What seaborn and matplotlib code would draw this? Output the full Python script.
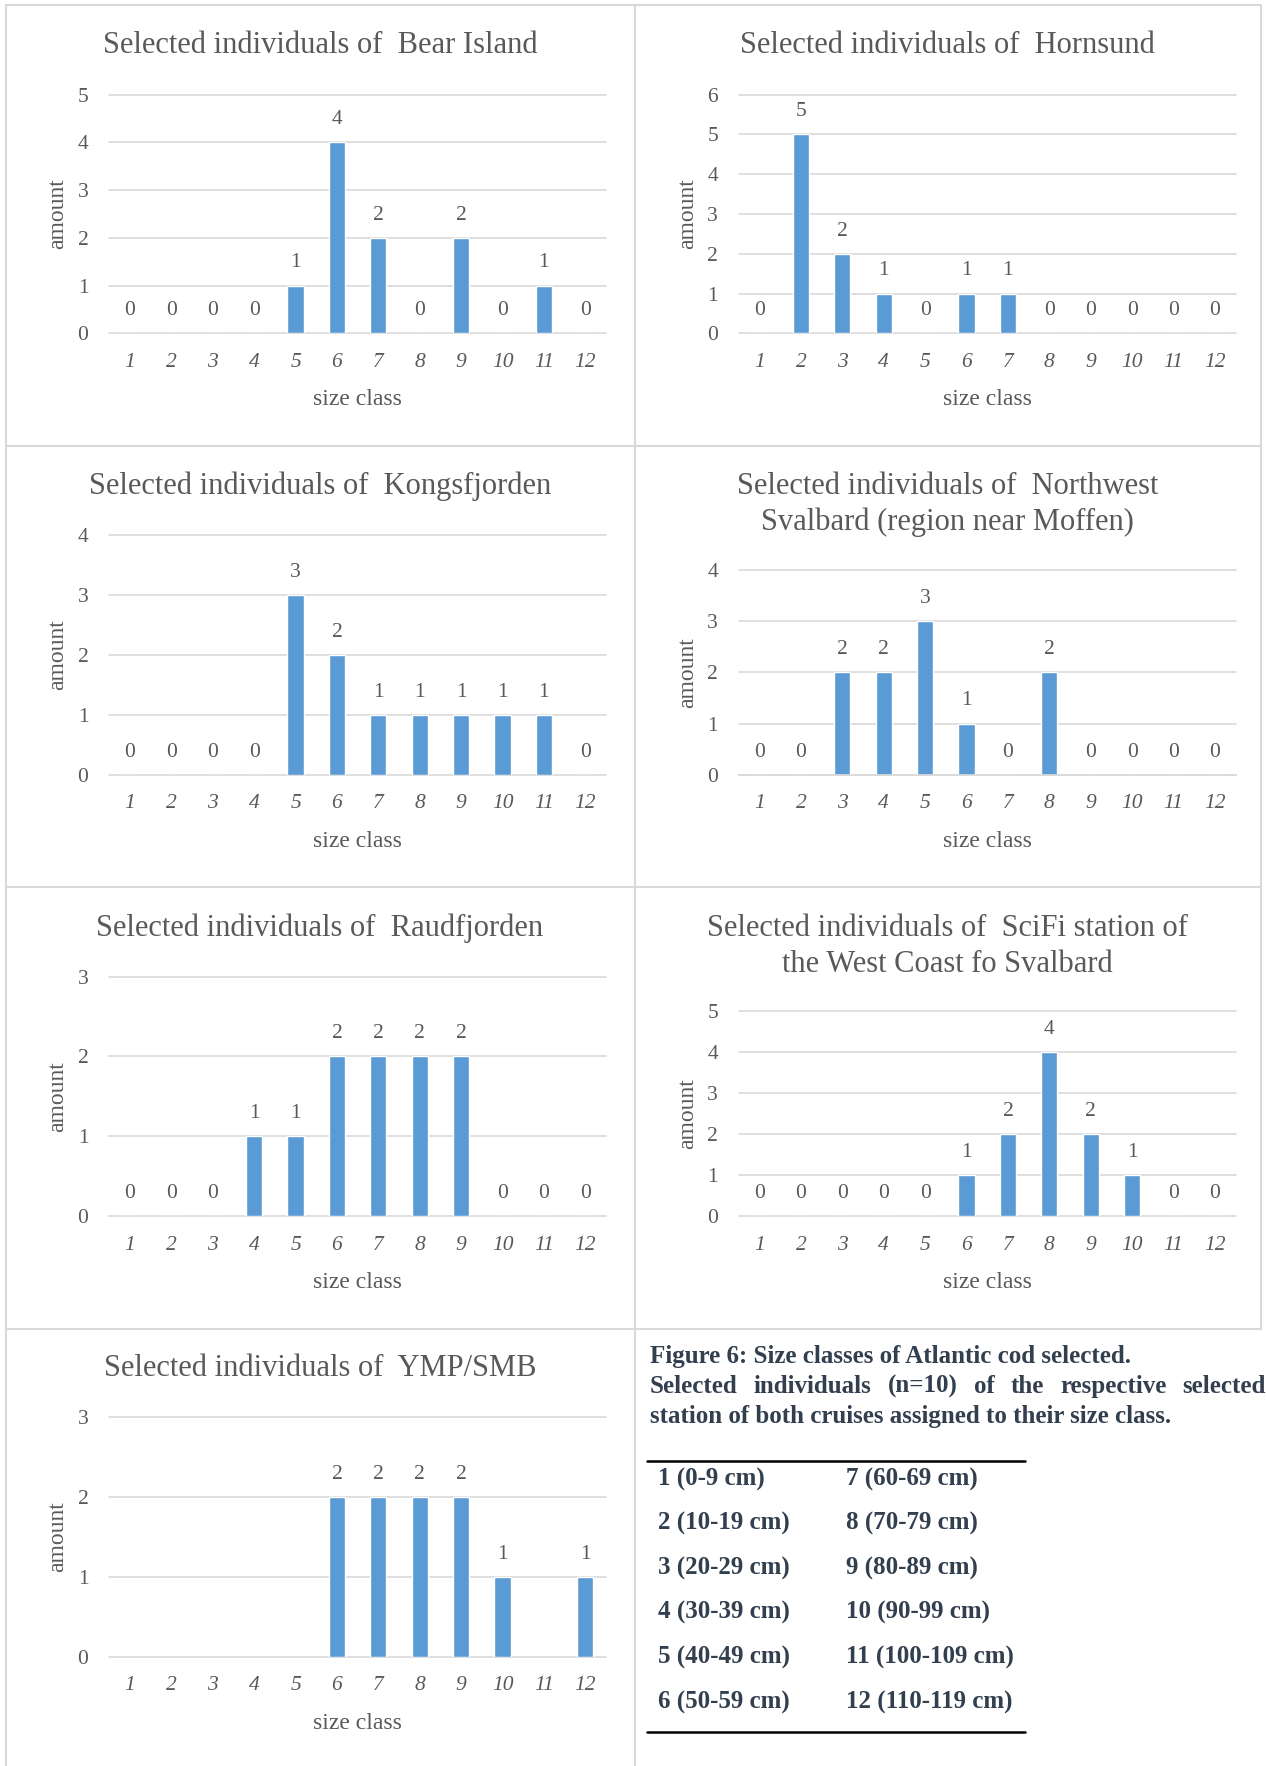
import numpy as np
import pandas as pd
import matplotlib
matplotlib.use("Agg")
import matplotlib.pyplot as plt
import seaborn as sns
from matplotlib.lines import Line2D

# ---------------- data ----------------
size_classes = [str(i) for i in range(1, 13)]

bear_island = [0, 0, 0, 0, 1, 4, 2, 0, 2, 0, 1, 0]
hornsund = [0, 5, 2, 1, 0, 1, 1, 0, 0, 0, 0, 0]
kongsfjorden = [0, 0, 0, 0, 3, 2, 1, 1, 1, 1, 1, 0]
nw_svalbard = [0, 0, 2, 2, 3, 1, 0, 2, 0, 0, 0, 0]
raudfjorden = [0, 0, 0, 1, 1, 2, 2, 2, 2, 0, 0, 0]
scifi_station = [0, 0, 0, 0, 0, 1, 2, 4, 2, 1, 0, 0]
ymp_smb = [np.nan, np.nan, np.nan, np.nan, np.nan, 2, 2, 2, 2, 1, np.nan, 1]

panel_titles = [
    ["Selected individuals of  Bear Island"],
    ["Selected individuals of  Hornsund"],
    ["Selected individuals of  Kongsfjorden"],
    ["Selected individuals of  Northwest", "Svalbard (region near Moffen)"],
    ["Selected individuals of  Raudfjorden"],
    ["Selected individuals of  SciFi station of", "the West Coast fo Svalbard"],
    ["Selected individuals of  YMP/SMB"],
]
panel_values = [bear_island, hornsund, kongsfjorden, nw_svalbard,
                raudfjorden, scifi_station, ymp_smb]
panel_ymax = [5, 6, 4, 4, 3, 5, 3]

caption_lines = [
    "Figure 6: Size classes of Atlantic cod selected.",
    "Selected individuals (n=10) of the respective selected",
    "station of both cruises assigned to their size class.",
]
class_ranges_left = ["1 (0-9 cm)", "2 (10-19 cm)", "3 (20-29 cm)",
                     "4 (30-39 cm)", "5 (40-49 cm)", "6 (50-59 cm)"]
class_ranges_right = ["7 (60-69 cm)", "8 (70-79 cm)", "9 (80-89 cm)",
                      "10 (90-99 cm)", "11 (100-109 cm)", "12 (110-119 cm)"]

# ---------------- style ----------------
sns.set_style("white")
plt.rcParams["font.family"] = ["Liberation Serif", "DejaVu Serif"]

BAR = "#5B9BD5"
GRID = "#D9D9D9"
TXT = "#595959"
CAP = "#323F4F"
BORDER = "#D9D9D9"

W, H = 1266, 1766
fig = plt.figure(figsize=(W / 100, H / 100), dpi=100)
fig.patch.set_facecolor("white")


def fx(x):
    return x / W


def fy(y):
    return 1 - y / H


# axes boxes in pixels: left, top, right, bottom
LX0, LX1 = 109.3, 606.0
RX0, RX1 = 738.9, 1235.6
boxes = [
    (LX0, 94.6, LX1, 333.4),
    (RX0, 94.6, RX1, 333.4),
    (LX0, 535.0, LX1, 774.9),
    (RX0, 569.9, RX1, 774.9),
    (LX0, 976.5, LX1, 1216.4),
    (RX0, 1011.4, RX1, 1216.4),
    (LX0, 1416.9, LX1, 1656.8),
]
title_baselines = [52.7, 52.7, 494.3, 494.0, 935.8, 935.8, 1376.2]
cell_centers = [320, 947.5] * 4

TITLE_FS = 22
TICK_FS = 15.5
LABEL_FS = 17

for i, (vals, box, ymax, tl) in enumerate(zip(panel_values, boxes, panel_ymax, panel_titles)):
    x0, y0, x1, y1 = box
    ax = fig.add_axes([fx(x0), fy(y1), (x1 - x0) / W, (y1 - y0) / H])
    df = pd.DataFrame({"size class": size_classes, "amount": vals})
    sns.barplot(data=df, x="size class", y="amount", order=size_classes,
                color=BAR, saturation=1, width=0.39, errorbar=None, ax=ax)
    ax.set_xlim(-0.5, 11.5)
    ax.set_ylim(0, ymax)
    ax.set_yticks(range(0, ymax + 1))
    ax.set_yticklabels([str(v) for v in range(0, ymax + 1)], fontsize=TICK_FS, color=TXT)
    ax.set_xticks(range(12))
    ax.set_xticklabels(size_classes, fontsize=TICK_FS, color=TXT, fontstyle="italic")
    ax.set_xlabel("")
    ax.set_ylabel("")
    for s in ax.spines.values():
        s.set_visible(False)
    ax.tick_params(axis="y", length=0, pad=15)
    ax.tick_params(axis="x", length=0, pad=14)
    ax.yaxis.grid(True, color=GRID, lw=1.2)
    ax.xaxis.grid(False)
    ax.set_axisbelow(True)
    if i == 3:
        ax.set_xticks(np.arange(-0.5, 12, 1.0), minor=True)
        ax.tick_params(axis="x", which="minor", length=5, width=1.2, color=GRID,
                       direction="out")
        ax.spines["bottom"].set_visible(True)
        ax.spines["bottom"].set_color(GRID)
        ax.spines["bottom"].set_linewidth(1.2)
    for gl in ax.get_ygridlines():
        gl.set_clip_on(False)

    cont = ax.containers[0]
    labels = []
    for b in cont:
        h = b.get_height()
        labels.append("" if (h is None or np.isnan(h)) else f"{h:.0f}")
    ax.bar_label(cont, labels=labels, padding=9.5, fontsize=TICK_FS, color=TXT)

    # titles
    for k, line in enumerate(tl):
        fig.text(fx(cell_centers[i]), fy(title_baselines[i] + 36 * k), line,
                 ha="center", va="baseline", fontsize=TITLE_FS, color=TXT)
    # axis titles
    fig.text(fx((x0 + x1) / 2), fy(y1 + 72), "size class", ha="center",
             va="baseline", fontsize=LABEL_FS, color=TXT)
    fig.text(fx(x0 - 46), fy((y0 + y1) / 2), "amount", rotation=90,
             rotation_mode="anchor", ha="center", va="baseline",
             fontsize=LABEL_FS, color=TXT)

# ---------------- panel borders ----------------
def hline(y, xa, xb):
    fig.add_artist(Line2D([fx(xa), fx(xb)], [fy(y), fy(y)], transform=fig.transFigure,
                          color=BORDER, lw=1.5))


def vline(x, ya, yb):
    fig.add_artist(Line2D([fx(x), fx(x)], [fy(ya), fy(yb)], transform=fig.transFigure,
                          color=BORDER, lw=1.5))


for yy in [4.8, 446, 887.5, 1329]:
    hline(yy, 5.6, 1260.5)
vline(5.6, 4.8, 1766)
vline(635, 4.8, 1766)
vline(1260.5, 4.8, 1329)

# ---------------- caption ----------------
CAP_FS = 18
cap_x0, cap_x1 = 649.5, 1266
cap_base = [1363.3, 1392.7, 1422.7]
fig.text(fx(cap_x0), fy(cap_base[0]), caption_lines[0], ha="left", va="baseline",
         fontsize=CAP_FS, fontweight="bold", color=CAP)
fig.text(fx(cap_x0), fy(cap_base[2]), caption_lines[2], ha="left", va="baseline",
         fontsize=CAP_FS, fontweight="bold", color=CAP)

# justified second line
fig.canvas.draw()
renderer = fig.canvas.get_renderer()
words = caption_lines[1].split()
wtexts = [fig.text(0, fy(cap_base[1]), w, ha="left", va="baseline", fontsize=CAP_FS,
                   fontweight="bold", color=CAP) for w in words]
widths = [t.get_window_extent(renderer).width for t in wtexts]
gap = (cap_x1 - cap_x0 - sum(widths)) / (len(words) - 1)
xpos = cap_x0
for t, wd in zip(wtexts, widths):
    t.set_x(fx(xpos))
    xpos += wd + gap

# ---------------- size-class table ----------------
TAB_FS = 18
fig.add_artist(Line2D([fx(647), fx(1024.7)], [fy(1460.7), fy(1460.7)],
                      transform=fig.transFigure, color="black", lw=1.8))
fig.add_artist(Line2D([fx(647), fx(1024.7)], [fy(1731.7), fy(1731.7)],
                      transform=fig.transFigure, color="black", lw=1.8))
row_base = [1485.7, 1529.5, 1574.2, 1619.0, 1664.0, 1709.0]
for r, (a, b) in enumerate(zip(class_ranges_left, class_ranges_right)):
    fig.text(fx(657.6), fy(row_base[r]), a, ha="left", va="baseline",
             fontsize=TAB_FS, fontweight="bold", color=CAP)
    fig.text(fx(845.8), fy(row_base[r]), b, ha="left", va="baseline",
             fontsize=TAB_FS, fontweight="bold", color=CAP)

fig.savefig("out.png", dpi=100, facecolor="white")
